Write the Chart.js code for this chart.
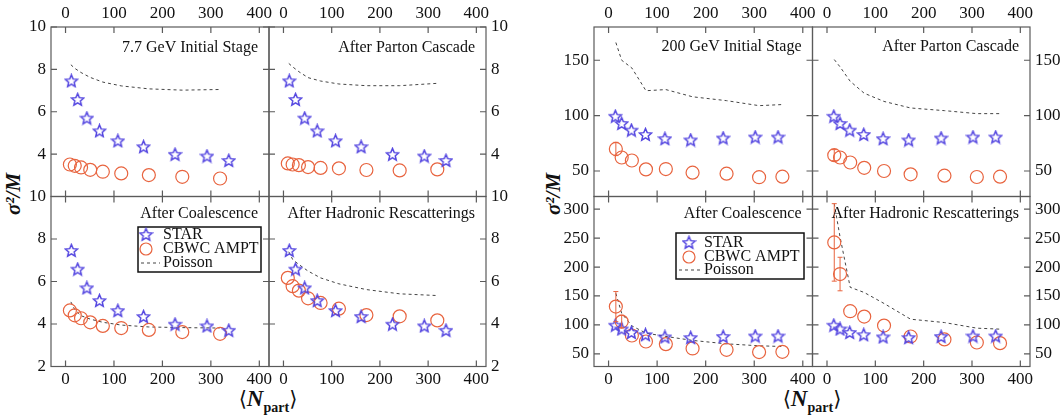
<!DOCTYPE html>
<html>
<head>
<meta charset="utf-8">
<script src="https://cdn.jsdelivr.net/npm/chart.js@4.4.1/dist/chart.umd.min.js"></script>
<style>
  body { margin: 0; background: #fff; }
  #wrap { position: relative; width: 1063px; height: 417px; overflow: hidden; }
  #wrap canvas { position: absolute; left: 0; top: 0; }
  .ytitle, .xtitle { position: absolute; font-family: 'Liberation Serif', serif; color: #111; white-space: nowrap; }
  .ytitle { font-weight: bold; font-style: italic; font-size: 21px; transform: translate(-50%, -50%) rotate(-90deg); }
  .xtitle { font-size: 23px; transform: translate(-50%, -50%); }
  .xtitle b { font-style: italic; }
  .xtitle sub { font-size: 14px; font-weight: bold; font-style: normal; }
  .xtitle .br { font-family: 'DejaVu Serif', serif; font-size: 21px; font-weight: normal; }
</style>
</head>
<body>
<div id="wrap">
  <div class="ytitle" style="left:13px; top:194px;">σ²/M</div>
  <div class="ytitle" style="left:553px; top:194px;">σ²/M</div>
  <div class="xtitle" style="left:268px; top:401px;"><span class="br">⟨</span><b>N</b><sub>part</sub><span class="br">⟩</span></div>
  <div class="xtitle" style="left:812px; top:401px;"><span class="br">⟨</span><b>N</b><sub>part</sub><span class="br">⟩</span></div>
</div>
<script>
// ---- 7.7 GeV ----
const starNpart77 = [12, 25, 44, 70, 108, 161, 226, 292, 337];
const starVar77 = [7.46, 6.58, 5.70, 5.10, 4.63, 4.35, 3.99, 3.91, 3.70];
const amptNpart77 = [9, 19, 32, 51, 77, 115, 172, 241, 319];
const amptInitial77 = [3.51, 3.45, 3.37, 3.26, 3.17, 3.09, 3.01, 2.93, 2.85];
const amptParton77 = [3.56, 3.51, 3.48, 3.39, 3.35, 3.33, 3.25, 3.23, 3.28];
const amptCoal77 = [4.64, 4.41, 4.27, 4.08, 3.91, 3.81, 3.72, 3.62, 3.54];
const amptHadron77 = [6.17, 5.78, 5.57, 5.21, 4.99, 4.72, 4.42, 4.36, 4.17];
const poissonNpart77 = [11, 19, 32, 51, 77, 115, 172, 241, 318];
const poissonInitial77 = [8.22, 8.05, 7.85, 7.62, 7.40, 7.22, 7.08, 7.02, 7.05];
const poissonParton77 = [8.28, 8.12, 7.89, 7.61, 7.45, 7.31, 7.23, 7.23, 7.34];
const poissonCoal77 = [5.04, 4.68, 4.39, 4.23, 4.08, 3.95, 3.86, 3.83, 3.81];
const poissonHadron77 = [7.40, 7.04, 6.80, 6.49, 6.17, 5.89, 5.62, 5.42, 5.34];

// ---- 200 GeV ----
const starNpart200 = [14, 27, 47, 76, 116, 169, 236, 302, 349];
const starVar200 = [99.4, 92.9, 86.9, 83.0, 79.2, 78.0, 79.8, 80.7, 80.7];
const amptNpart200 = [15, 27, 48, 77, 118, 173, 243, 310, 358];
const amptInitial200 = [69.9, 62.2, 59.5, 51.5, 51.8, 48.5, 47.6, 44.4, 44.9];
const amptInitialErr200 = [6, 0, 0, 0, 0, 0, 0, 0, 0];
const amptParton200 = [64.3, 62.2, 57.7, 52.9, 50.0, 47.0, 45.8, 44.6, 44.9];
const amptPartonErr200 = [5, 0, 0, 0, 0, 0, 0, 0, 0];
const amptCoal200 = [131.6, 105.7, 81.6, 71.2, 66.7, 59.2, 56.9, 52.9, 53.4];
const amptCoalErr200 = [26, 11, 0, 0, 0, 0, 0, 0, 0];
const amptHadron200 = [242.6, 187.9, 123.6, 114.3, 98.8, 79.9, 74.8, 69.5, 68.4];
const amptHadronErr200 = [67, 29, 0, 0, 0, 0, 0, 0, 0];
const poissonNpart200 = [15, 27, 48, 77, 118, 173, 243, 310, 358];
const poissonInitial200 = [166, 150, 143, 122.5, 123.5, 117, 113.5, 109, 110];
const poissonParton200 = [150.6, 144, 131, 120.2, 112.8, 106.9, 104.5, 101.8, 101.8];
const poissonCoal200 = [154.6, 120, 98.3, 85.7, 80, 73.1, 67.2, 63.8, 62.6];
const poissonHadron200 = [309.8, 252, 165, 156, 137, 109.8, 104, 94.3, 92.6];

const xTicks = [0, 100, 200, 300, 400];

const W = 1063, H = 417;
const AXIS_H = 26;             // room for the Npart tick labels
const AXIS_W = { left: 45, right: 33 };
const STAR_COLOR = '#5446e0';
const AMPT_COLOR = '#e8643f';
const SERIF = "'Liberation Serif', 'Times New Roman', serif";

function zip(xs, ys) {
  return xs.map((x, i) => ({ x, y: ys[i] }));
}

// open five-pointed star used as the STAR marker
function starMark(color) {
  const c = document.createElement('canvas');
  c.width = 15; c.height = 15;
  const g = c.getContext('2d');
  g.strokeStyle = color;
  g.lineWidth = 1.5;
  g.beginPath();
  for (let i = 0; i < 10; i++) {
    const r = i % 2 ? 2.9 : 6.4;
    const a = -Math.PI / 2 + i * Math.PI / 5;
    g.lineTo(7.5 + r * Math.cos(a), 8 + r * Math.sin(a));
  }
  g.closePath();
  g.stroke();
  return c;
}
const starImg = starMark(STAR_COLOR);

// frame, inward ticks, error bars, panel label and legend
const deco = {
  id: 'deco',
  beforeDatasetsDraw(chart) {
    const { ctx, chartArea: a, scales: { x, y } } = chart;
    ctx.save();
    ctx.strokeStyle = '#5a5a5a';
    ctx.lineWidth = 1.2;
    ctx.strokeRect(a.left, a.top, a.width, a.height);
    ctx.beginPath();
    x.ticks.forEach(t => {
      const px = x.getPixelForValue(t.value);
      ctx.moveTo(px, a.top); ctx.lineTo(px, a.top + 6);
      ctx.moveTo(px, a.bottom); ctx.lineTo(px, a.bottom - 6);
    });
    y.ticks.forEach(t => {
      const py = y.getPixelForValue(t.value);
      ctx.moveTo(a.left, py); ctx.lineTo(a.left + 6, py);
      ctx.moveTo(a.right, py); ctx.lineTo(a.right - 6, py);
    });
    ctx.stroke();
    ctx.restore();
  },
  afterDatasetsDraw(chart, args, opts) {
    const { ctx, chartArea: a, scales: { y } } = chart;
    ctx.save();

    chart.data.datasets.forEach((ds, i) => {
      if (!ds.errors) return;
      const meta = chart.getDatasetMeta(i);
      ctx.strokeStyle = ds.borderColor;
      ctx.lineWidth = 1;
      ds.errors.forEach((e, j) => {
        if (!e) return;
        const pt = meta.data[j];
        const v = ds.data[j].y;
        const top = y.getPixelForValue(v + e), bot = y.getPixelForValue(v - e);
        ctx.beginPath();
        ctx.moveTo(pt.x, top); ctx.lineTo(pt.x, bot);
        ctx.moveTo(pt.x - 2.5, top); ctx.lineTo(pt.x + 2.5, top);
        ctx.moveTo(pt.x - 2.5, bot); ctx.lineTo(pt.x + 2.5, bot);
        ctx.stroke();
      });
    });

    if (opts.title) {
      ctx.fillStyle = '#111';
      ctx.font = '16px ' + SERIF;
      ctx.textAlign = 'right';
      ctx.textBaseline = 'middle';
      ctx.fillText(opts.title, a.right - 11, a.top + opts.titleDy);
    }

    if (opts.legend) {
      const L = opts.legend;
      const bx = a.left + L.dx, by = a.top + L.dy;
      ctx.strokeStyle = '#111';
      ctx.lineWidth = 1.5;
      ctx.strokeRect(bx, by, L.w, L.h);
      ctx.font = '16px ' + SERIF;
      ctx.textAlign = 'left';
      ctx.textBaseline = 'middle';
      ctx.fillStyle = '#111';
      const ds = chart.data.datasets;
      const rows = [by + L.rowY[0], by + L.rowY[1], by + L.rowY[2]];
      ctx.drawImage(starImg, bx + L.mark - 7.5, rows[0] - 8);
      ctx.strokeStyle = AMPT_COLOR;
      ctx.lineWidth = 1.2;
      ctx.beginPath();
      ctx.arc(bx + L.mark, rows[1], 6, 0, Math.PI * 2);
      ctx.stroke();
      ctx.strokeStyle = '#444';
      ctx.lineWidth = 1;
      ctx.setLineDash([3, 3]);
      ctx.beginPath();
      ctx.moveTo(bx + 3, rows[2]); ctx.lineTo(bx + L.text - 3, rows[2]);
      ctx.stroke();
      ctx.setLineDash([]);
      ds.forEach((d, k) => ctx.fillText(d.label, bx + L.text, rows[k]));
    }
    ctx.restore();
  }
};

function makePanel(p) {
  const cv = document.createElement('canvas');
  cv.width = W; cv.height = H;
  document.getElementById('wrap').appendChild(cv);
  const tickFont = { family: SERIF, size: 17 };
  const yw = AXIS_W[p.yPos];
  const pad = {
    left: p.l - (p.yPos === 'left' ? yw : 0),
    right: W - p.r - (p.yPos === 'right' ? yw : 0),
    top: p.t - (p.xPos === 'top' ? AXIS_H : 0),
    bottom: H - p.b - (p.xPos === 'bottom' ? AXIS_H : 0)
  };
  new Chart(cv, {
    type: 'scatter',
    data: {
      datasets: [
        {
          label: 'STAR',
          data: zip(p.starX, p.starY),
          pointStyle: starImg,
          pointRadius: 6
        },
        {
          label: 'CBWC AMPT',
          data: zip(p.amptX, p.amptY),
          errors: p.amptErr,
          pointStyle: 'circle',
          pointRadius: 6.5,
          borderColor: AMPT_COLOR,
          backgroundColor: 'rgba(0,0,0,0)',
          borderWidth: 1.2
        },
        {
          label: 'Poisson',
          data: zip(p.poisX, p.poisY),
          showLine: true,
          pointRadius: 0,
          borderColor: '#444',
          borderWidth: 1,
          borderDash: [3, 3]
        }
      ]
    },
    options: {
      responsive: false,
      animation: false,
      devicePixelRatio: 1,
      layout: { padding: pad },
      plugins: {
        legend: { display: false },
        tooltip: { enabled: false },
        deco: { title: p.title, titleDy: p.titleDy, legend: p.legend }
      },
      scales: {
        x: {
          type: 'linear',
          position: p.xPos,
          min: -30,
          max: 420,
          grid: { display: false, drawTicks: false },
          border: { display: false },
          afterBuildTicks: s => { s.ticks = xTicks.map(v => ({ value: v })); },
          ticks: { padding: 3, font: tickFont, color: '#111', maxRotation: 0, autoSkip: false },
          afterFit: s => { s.height = AXIS_H; }
        },
        y: {
          type: 'linear',
          position: p.yPos,
          min: p.yMin,
          max: p.yMax,
          grid: { display: false, drawTicks: false },
          border: { display: false },
          afterBuildTicks: s => { s.ticks = p.yTicks.map(v => ({ value: v })); },
          ticks: {
            padding: 5,
            font: tickFont,
            color: '#111',
            autoSkip: false,
            callback: v => (p.hideY === v ? '' : v)
          },
          afterFit: s => { s.width = yw; }
        }
      }
    },
    plugins: [deco]
  });
}

const legend77 = { dx: 87, dy: 30.5, w: 123, h: 45, mark: 8, text: 25, rowY: [8, 22, 36] };
const legend200 = { dx: 82, dy: 36.5, w: 128, h: 46, mark: 13, text: 28, rowY: [10, 24, 37] };

const rowTop = [27, 196.5], rowBot = [196.5, 366.5];
const cols77 = [51, 269, 486], cols200 = [594, 812.5, 1030];
const ticks77 = [2, 4, 6, 8, 10];

const panels = [
  { l: cols77[0], r: cols77[1], t: rowTop[0], b: rowBot[0], xPos: 'top', yPos: 'left',
    yMin: 2, yMax: 10, yTicks: ticks77, hideY: 2, title: '7.7 GeV Initial Stage', titleDy: 21,
    starX: starNpart77, starY: starVar77, amptX: amptNpart77, amptY: amptInitial77, poisX: poissonNpart77, poisY: poissonInitial77 },
  { l: cols77[1], r: cols77[2], t: rowTop[0], b: rowBot[0], xPos: 'top', yPos: 'right',
    yMin: 2, yMax: 10, yTicks: ticks77, hideY: 2, title: 'After Parton Cascade', titleDy: 21,
    starX: starNpart77, starY: starVar77, amptX: amptNpart77, amptY: amptParton77, poisX: poissonNpart77, poisY: poissonParton77 },
  { l: cols77[0], r: cols77[1], t: rowTop[1], b: rowBot[1], xPos: 'bottom', yPos: 'left',
    yMin: 2, yMax: 10, yTicks: ticks77, title: 'After Coalescence', titleDy: 17.5, legend: legend77,
    starX: starNpart77, starY: starVar77, amptX: amptNpart77, amptY: amptCoal77, poisX: poissonNpart77, poisY: poissonCoal77 },
  { l: cols77[1], r: cols77[2], t: rowTop[1], b: rowBot[1], xPos: 'bottom', yPos: 'right',
    yMin: 2, yMax: 10, yTicks: ticks77, title: 'After Hadronic Rescatterings', titleDy: 17.5,
    starX: starNpart77, starY: starVar77, amptX: amptNpart77, amptY: amptHadron77, poisX: poissonNpart77, poisY: poissonHadron77 },

  { l: cols200[0], r: cols200[1], t: rowTop[0], b: rowBot[0], xPos: 'top', yPos: 'left',
    yMin: 27, yMax: 180, yTicks: [50, 100, 150], title: '200 GeV Initial Stage', titleDy: 20,
    starX: starNpart200, starY: starVar200, amptX: amptNpart200, amptY: amptInitial200, amptErr: amptInitialErr200,
    poisX: poissonNpart200, poisY: poissonInitial200 },
  { l: cols200[1], r: cols200[2], t: rowTop[0], b: rowBot[0], xPos: 'top', yPos: 'right',
    yMin: 27, yMax: 180, yTicks: [50, 100, 150], title: 'After Parton Cascade', titleDy: 20,
    starX: starNpart200, starY: starVar200, amptX: amptNpart200, amptY: amptParton200, amptErr: amptPartonErr200,
    poisX: poissonNpart200, poisY: poissonParton200 },
  { l: cols200[0], r: cols200[1], t: rowTop[1], b: rowBot[1], xPos: 'bottom', yPos: 'left',
    yMin: 28, yMax: 322, yTicks: [50, 100, 150, 200, 250, 300], title: 'After Coalescence', titleDy: 17.5, legend: legend200,
    starX: starNpart200, starY: starVar200, amptX: amptNpart200, amptY: amptCoal200, amptErr: amptCoalErr200,
    poisX: poissonNpart200, poisY: poissonCoal200 },
  { l: cols200[1], r: cols200[2], t: rowTop[1], b: rowBot[1], xPos: 'bottom', yPos: 'right',
    yMin: 28, yMax: 322, yTicks: [50, 100, 150, 200, 250, 300], title: 'After Hadronic Rescatterings', titleDy: 17.5,
    starX: starNpart200, starY: starVar200, amptX: amptNpart200, amptY: amptHadron200, amptErr: amptHadronErr200,
    poisX: poissonNpart200, poisY: poissonHadron200 }
];

panels.forEach(makePanel);
</script>
</body>
</html>
